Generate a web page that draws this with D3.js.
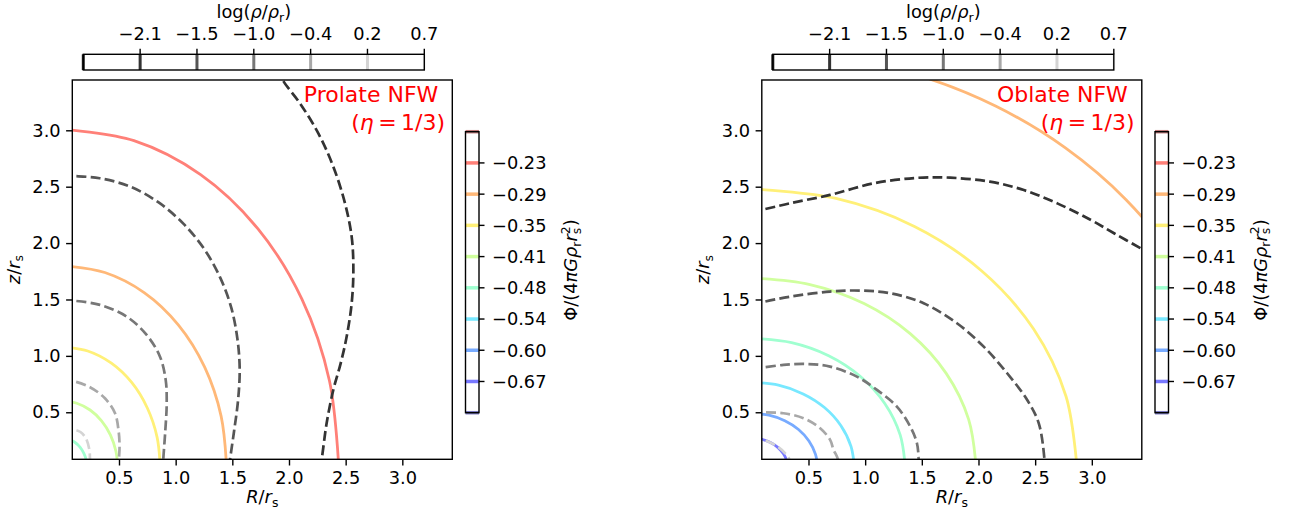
<!DOCTYPE html>
<html><head><meta charset="utf-8">
<script src="https://cdn.jsdelivr.net/npm/d3@7/dist/d3.min.js"></script>
<style>
body{margin:0;background:#fff}
text{font-family:"DejaVu Sans",sans-serif;fill:#000}
</style>
</head><body>
<svg id="chart" width="1290" height="522"></svg>
<script>
// ---------------- data ----------------
const axisTicks = [0.5, 1.0, 1.5, 2.0, 2.5, 3.0];
const densityTickLabels = ["\u22122.1", "\u22121.5", "\u22121.0", "\u22120.4", "0.2", "0.7"];
const potentialTickLabels = ["\u22120.67", "\u22120.60", "\u22120.54", "\u22120.48", "\u22120.41", "\u22120.35", "\u22120.29", "\u22120.23"];
// colors of density levels (index 0 = lowest level at left edge of colorbar)
const densityColors = ["#222222", "#333333", "#555555", "#777777", "#a8a8a8", "#d4d4d4", "#f4f4f4"];
// colors of potential levels (index 0 = lowest, bottom of colorbar)
const potentialColors = ["#7a7ac0", "#7878ff", "#78abff", "#78e8ff", "#a0ffd0", "#d0ff9e", "#fff078", "#ffb878", "#ff8078", "#c07a7a"];

// Prolate NFW: potential contours [R, z]
const prolatePotRed = [[0,3.01],[0.632,2.908],[1.22,2.607],[1.725,2.128],[2.113,1.505],[2.357,0.779],[2.44,0]];
const prolatePotOrange = [[0,1.80],[0.375,1.739],[0.725,1.559],[1.025,1.273],[1.256,0.90],[1.401,0.466],[1.45,0]];
const prolatePotYellow = [[0,1.08],[0.224,1.043],[0.433,0.935],[0.612,0.764],[0.749,0.54],[0.836,0.28],[0.865,0]];
const prolatePotGreen = [[0,0.60],[0.127,0.58],[0.245,0.52],[0.346,0.424],[0.424,0.30],[0.473,0.155],[0.49,0]];
const prolatePotTeal = [[0,0.27],[0.057,0.261],[0.11,0.234],[0.156,0.191],[0.19,0.135],[0.213,0.07],[0.22,0]];
// Prolate NFW: density contours
const prolateDens1 = [[1.90,3.55],[1.944,3.446],[2.097,3.239],[2.259,2.973],[2.391,2.678],[2.494,2.353],[2.553,2.057],[2.568,1.762],[2.553,1.466],[2.509,1.171],[2.456,0.934],[2.391,0.698],[2.332,0.402],[2.288,0.083],[2.27,0.0]];
const prolateDens2 = [[0,2.60],[0.088,2.595],[0.33,2.575],[0.6,2.50],[0.85,2.36],[1.07,2.17],[1.25,1.95],[1.39,1.70],[1.49,1.43],[1.545,1.15],[1.565,0.88],[1.55,0.6],[1.515,0.33],[1.48,0.083],[1.47,0]];
const prolateDens3 = [[0,1.495],[0.088,1.49],[0.332,1.452],[0.568,1.348],[0.744,1.186],[0.862,0.993],[0.912,0.787],[0.921,0.58],[0.909,0.343],[0.891,0.083],[0.888,0]];
const prolateDens4 = [[0,0.785],[0.088,0.778],[0.244,0.722],[0.376,0.624],[0.465,0.491],[0.497,0.33],[0.505,0.2],[0.5,0.083],[0.5,0]];
const prolateDens5 = [[0,0.352],[0.088,0.349],[0.16,0.325],[0.21,0.265],[0.238,0.17],[0.244,0.083],[0.244,0]];

// Oblate NFW: potential contours
const oblatePotOrange = [[0,3.71],[0.749,3.654],[1.474,3.486],[2.155,3.213],[2.77,2.842],[3.302,2.385],[3.732,1.855],[4.05,1.269],[4.245,0.644],[4.31,0]];
const oblatePotYellow = [[0,2.48],[0.743,2.396],[1.435,2.148],[2.029,1.753],[2.485,1.24],[2.772,0.642],[2.87,0]];
const oblatePotGreen = [[0,1.69],[0.513,1.632],[0.99,1.464],[1.4,1.195],[1.715,0.845],[1.913,0.437],[1.98,0]];
const oblatePotTeal = [[0,1.156],[0.351,1.117],[0.678,1.001],[0.958,0.817],[1.173,0.578],[1.309,0.299],[1.355,0]];
const oblatePotCyan = [[0,0.766],[0.235,0.74],[0.453,0.663],[0.641,0.542],[0.785,0.383],[0.875,0.198],[0.906,0]];
const oblatePotBlue = [[0,0.491],[0.151,0.474],[0.291,0.425],[0.412,0.347],[0.504,0.246],[0.562,0.127],[0.582,0]];
const oblatePotViolet = [[0,0.27],[0.083,0.261],[0.16,0.234],[0.226,0.191],[0.277,0.135],[0.309,0.07],[0.32,0]];
// Oblate NFW: density contours
const oblateDens1 = [[0,2.27],[0.088,2.294],[0.338,2.353],[0.69,2.427],[1.074,2.53],[1.45,2.578],[1.75,2.58],[2.1,2.545],[2.4,2.47],[2.7,2.35],[3.0,2.2],[3.2,2.085],[3.445,1.945],[3.55,1.88]];
const oblateDens2 = [[0,1.45],[0.088,1.475],[0.338,1.525],[0.69,1.57],[0.957,1.579],[1.222,1.555],[1.516,1.466],[1.81,1.289],[2.046,1.082],[2.253,0.846],[2.43,0.609],[2.532,0.402],[2.582,0.083],[2.585,0]];
const oblateDens3 = [[0,0.89],[0.088,0.896],[0.279,0.92],[0.485,0.928],[0.69,0.905],[0.927,0.816],[1.104,0.698],[1.28,0.55],[1.398,0.373],[1.457,0.225],[1.472,0.083],[1.473,0]];
const oblateDens4 = [[0,0.50],[0.088,0.5],[0.279,0.491],[0.456,0.447],[0.603,0.358],[0.691,0.255],[0.72,0.17],[0.76,0.083],[0.765,0]];
const oblateDens5 = [[0,0.265],[0.088,0.26],[0.22,0.2],[0.3,0.13],[0.33,0.083],[0.335,0]];

const panels = [
  {title: "Prolate NFW", dx: 0,
   pot: [[prolatePotRed,8],[prolatePotOrange,7],[prolatePotYellow,6],[prolatePotGreen,5],[prolatePotTeal,4]],
   dens: [[prolateDens1,1],[prolateDens2,2],[prolateDens3,3],[prolateDens4,4],[prolateDens5,5]]},
  {title: "Oblate NFW", dx: 689.5,
   pot: [[oblatePotOrange,7],[oblatePotYellow,6],[oblatePotGreen,5],[oblatePotTeal,4],[oblatePotCyan,3],[oblatePotBlue,2],[oblatePotViolet,1]],
   dens: [[oblateDens1,1],[oblateDens2,2],[oblateDens3,3],[oblateDens4,4],[oblateDens5,5]]}
];

// ---------------- drawing ----------------
const svg = d3.select("#chart");
const FS = 17.8;
const AX = {left: 72.3, right: 452.3, top: 80, bottom: 459.3};

panels.forEach((p, pi) => {
  const g = svg.append("g").attr("transform", `translate(${p.dx},0)`);
  const x = d3.scaleLinear().domain([0.088, 3.441]).range([AX.left, AX.right]);
  const y = d3.scaleLinear().domain([0.083, 3.446]).range([AX.bottom, AX.top]);
  const clipId = "clip" + pi;
  g.append("clipPath").attr("id", clipId).append("rect")
    .attr("x", AX.left).attr("y", AX.top).attr("width", AX.right - AX.left).attr("height", AX.bottom - AX.top);
  const line = d3.line().x(d => x(d[0])).y(d => y(d[1])).curve(d3.curveCatmullRom.alpha(0.5));
  const plot = g.append("g").attr("clip-path", `url(#${clipId})`);
  p.pot.forEach(([pts, ci]) => {
    plot.append("path").attr("d", line(pts)).attr("fill", "none")
      .attr("stroke", potentialColors[ci]).attr("stroke-width", 2.8);
  });
  p.dens.forEach(([pts, ci]) => {
    plot.append("path").attr("d", line(pts)).attr("fill", "none")
      .attr("stroke", densityColors[ci]).attr("stroke-width", 2.7).attr("stroke-dasharray", "9.9,4.3");
  });

  // axes
  const xa = g.append("g").attr("transform", `translate(0,${AX.bottom})`)
    .call(d3.axisBottom(x).tickValues(axisTicks).tickFormat(d3.format(".1f")).tickSize(6.2).tickPadding(6.2));
  const ya = g.append("g").attr("transform", `translate(${AX.left},0)`)
    .call(d3.axisLeft(y).tickValues(axisTicks).tickFormat(d3.format(".1f")).tickSize(6.2).tickPadding(5.5));
  [xa, ya].forEach(a => {
    a.select(".domain").remove();
    a.selectAll("line").attr("stroke", "#000").attr("stroke-width", 1.4);
    a.selectAll("text").attr("font-size", FS).attr("font-family", "DejaVu Sans").attr("fill", "#000");
  });
  g.append("rect").attr("x", AX.left).attr("y", AX.top).attr("width", AX.right - AX.left)
    .attr("height", AX.bottom - AX.top).attr("fill", "none").attr("stroke", "#000").attr("stroke-width", 1.4);

  // axis labels
  const xl = g.append("text").attr("x", 262.3).attr("y", 503.3).attr("text-anchor", "middle").attr("font-size", FS);
  xl.append("tspan").attr("font-style", "italic").text("R");
  xl.append("tspan").text("/");
  xl.append("tspan").attr("font-style", "italic").text("r");
  xl.append("tspan").attr("font-size", FS * 0.7).attr("dy", 3.5).text("s");
  const yl = g.append("text").attr("transform", "translate(19.5,269.6) rotate(-90)").attr("text-anchor", "middle").attr("font-size", FS);
  yl.append("tspan").attr("font-style", "italic").text("z");
  yl.append("tspan").text("/");
  yl.append("tspan").attr("font-style", "italic").text("r");
  yl.append("tspan").attr("font-size", FS * 0.7).attr("dy", 3.5).text("s");

  // red annotation
  g.append("text").attr("x", 438.3).attr("y", 102.3).attr("text-anchor", "end")
    .attr("font-size", 22).style("fill", "#ff0000").text(p.title);
  const ann = g.append("text").attr("x", 445).attr("y", 129.5).attr("text-anchor", "end")
    .attr("font-size", 22).style("fill", "#ff0000");
  ann.append("tspan").text("(");
  ann.append("tspan").attr("font-style", "italic").text("\u03b7");
  ann.append("tspan").text("\u2009=\u20091/3)");

  // horizontal density colorbar
  const cbx = {x0: 83.3, x1: 424.3, y0: 54.3, y1: 70};
  const cs = d3.scaleLinear().domain([0, densityColors.length - 1]).range([cbx.x0, cbx.x1]);
  g.append("rect").attr("x", cbx.x0).attr("y", cbx.y0).attr("width", cbx.x1 - cbx.x0).attr("height", cbx.y1 - cbx.y0)
    .attr("fill", "#fff");
  densityColors.forEach((c, i) => {
    g.append("line").attr("x1", cs(i)).attr("x2", cs(i)).attr("y1", cbx.y0).attr("y2", cbx.y1)
      .attr("stroke", c).attr("stroke-width", 3);
  });
  g.append("rect").attr("x", cbx.x0).attr("y", cbx.y0).attr("width", cbx.x1 - cbx.x0).attr("height", cbx.y1 - cbx.y0)
    .attr("fill", "none").attr("stroke", "#000").attr("stroke-width", 1.4);
  densityTickLabels.forEach((t, i) => {
    const xx = cs(i + 1);
    g.append("line").attr("x1", xx).attr("x2", xx).attr("y1", cbx.y0).attr("y2", cbx.y0 - 5.5)
      .attr("stroke", "#000").attr("stroke-width", 1.4);
    g.append("text").attr("x", xx).attr("y", 39.5).attr("text-anchor", "middle").attr("font-size", FS).text(t);
  });
  const dl = g.append("text").attr("x", (cbx.x0 + cbx.x1) / 2).attr("y", 18).attr("text-anchor", "middle").attr("font-size", FS);
  dl.append("tspan").text("log(");
  dl.append("tspan").attr("font-style", "italic").text("\u03c1");
  dl.append("tspan").text("/");
  dl.append("tspan").attr("font-style", "italic").text("\u03c1");
  dl.append("tspan").attr("font-size", FS * 0.7).attr("dy", 3.5).text("r");
  dl.append("tspan").attr("dy", -3.5).text(")");

  // vertical potential colorbar
  const cby = {x0: 465.5, x1: 479, y0: 131.7, y1: 412.7};
  const ps = d3.scaleLinear().domain([0, potentialColors.length - 1]).range([cby.y1, cby.y0]);
  g.append("rect").attr("x", cby.x0).attr("y", cby.y0).attr("width", cby.x1 - cby.x0).attr("height", cby.y1 - cby.y0)
    .attr("fill", "#fff");
  potentialColors.forEach((c, i) => {
    g.append("line").attr("x1", cby.x0).attr("x2", cby.x1).attr("y1", ps(i)).attr("y2", ps(i))
      .attr("stroke", c).attr("stroke-width", 3.5);
  });
  g.append("rect").attr("x", cby.x0).attr("y", cby.y0).attr("width", cby.x1 - cby.x0).attr("height", cby.y1 - cby.y0)
    .attr("fill", "none").attr("stroke", "#000").attr("stroke-width", 1.4);
  potentialTickLabels.forEach((t, i) => {
    const yy = ps(i + 1);
    g.append("line").attr("x1", cby.x1).attr("x2", cby.x1 + 5.5).attr("y1", yy).attr("y2", yy)
      .attr("stroke", "#000").attr("stroke-width", 1.4);
    g.append("text").attr("x", 492).attr("y", yy).attr("dy", "0.36em").attr("font-size", FS).text(t);
  });
  const pl = g.append("text").attr("transform", "translate(577,270) rotate(-90)").attr("text-anchor", "middle").attr("font-size", FS);
  pl.append("tspan").text("\u03a6/(4");
  pl.append("tspan").attr("font-style", "italic").text("\u03c0G\u03c1");
  pl.append("tspan").attr("font-size", FS * 0.7).attr("dy", 3.5).text("r");
  pl.append("tspan").attr("font-style", "italic").attr("dy", -3.5).text("r");
  pl.append("tspan").attr("font-size", FS * 0.7).attr("dy", 3.5).text("s");
  pl.append("tspan").attr("font-size", FS * 0.7).attr("dx", -6.5).attr("dy", -11).text("2");
  pl.append("tspan").attr("dy", 7.5).text(")");
});
</script>
</body></html>
